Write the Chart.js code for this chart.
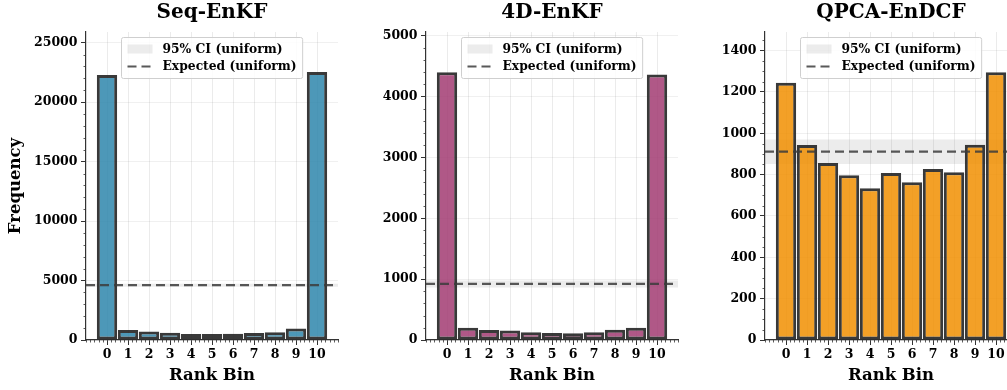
<!DOCTYPE html>
<html>
<head>
<meta charset="utf-8">
<script src="https://cdn.jsdelivr.net/npm/chart.js@4.4.1/dist/chart.umd.min.js"></script>
<style>
  html, body { margin: 0; padding: 0; background: #fff; overflow: hidden; width: 1007px; height: 390px; }
  .panel { position: absolute; top: 0; width: 340px; height: 390px; }
</style>
</head>
<body>
<div class="panel" style="left:0px"><canvas id="seq" width="340" height="390"></canvas></div>
<div class="panel" style="left:340px"><canvas id="fourd" width="340" height="390"></canvas></div>
<div class="panel" style="left:679px"><canvas id="qpca" width="340" height="390"></canvas></div>
<script>
// rank histogram counts
const rankBins = [0, 1, 2, 3, 4, 5, 6, 7, 8, 9, 10];
const seqCounts = [22290, 850, 710, 600, 515, 500, 520, 580, 650, 960, 22540];
const fourDCounts = [4399, 202, 164, 158, 126, 115, 110, 126, 170, 202, 4361];
const qpcaCounts = [1244, 943, 856, 797, 734, 808, 763, 827, 811, 945, 1295];

const panelTitles = ['Seq-EnKF', '4D-EnKF', 'QPCA-EnDCF'];
const expectedCounts = [4610, 921, 911];
const ciLow = [4483, 864, 852];
const ciHigh = [4737, 978, 970];
const yMaxes = [25900, 5060, 1490];
const yMajorSteps = [5000, 1000, 200];
const yMinorSteps = [1000, 200, 50];

const ciLabel = '95% CI (uniform)';
const expLabel = 'Expected (uniform)';

const serif = '"DejaVu Serif", "Liberation Serif", serif';

// small ticks between the major ones, like matplotlib's minor locator
const minorTicks = {
  id: 'minorTicks',
  afterDraw(chart, args, opts) {
    const { ctx, scales: { x, y } } = chart;
    ctx.save();
    ctx.strokeStyle = '#333';
    ctx.lineWidth = 0.8;
    ctx.beginPath();
    const nx = Math.round((x.max - x.min) / 0.2);
    for (let i = 0; i <= nx; i++) {
      const v = x.min + i * 0.2;
      if (Math.abs(v - Math.round(v)) < 1e-6 && v >= 0 && v <= 10) continue;
      const px = Math.round(x.getPixelForValue(v)) + 0.5;
      ctx.moveTo(px, y.bottom);
      ctx.lineTo(px, y.bottom + 2.5);
    }
    const ny = Math.floor(y.max / opts.step);
    for (let i = 1; i <= ny; i++) {
      const v = i * opts.step;
      if (v % opts.major === 0) continue;
      const py = Math.round(y.getPixelForValue(v)) + 0.5;
      ctx.moveTo(x.left, py);
      ctx.lineTo(x.left - 2.5, py);
    }
    ctx.stroke();
    ctx.restore();
  }
};

// framed legend at the upper centre of the plot area
const boxLegend = {
  id: 'boxLegend',
  afterDraw(chart) {
    const { ctx, chartArea: a } = chart;
    const rows = chart.data.datasets.filter(d => d.legendKind)
      .sort((p, q) => p.legendRank - q.legendRank);
    ctx.save();
    ctx.font = 'bold 12.3px ' + serif;
    const textW = Math.max(...rows.map(r => ctx.measureText(r.label).width));
    const w = 6 + 25 + 10 + textW + 6;
    const h = 41;
    const x0 = Math.round((a.left + a.right) / 2 - w / 2) + 0.5;
    const y0 = a.top + 5.5;
    ctx.beginPath();
    ctx.roundRect(x0, y0, w, h, 2);
    ctx.fillStyle = 'rgba(255,255,255,0.85)';
    ctx.fill();
    ctx.strokeStyle = '#cfcfcf';
    ctx.lineWidth = 1;
    ctx.stroke();
    rows.forEach((r, i) => {
      const cy = y0 + 11.5 + i * 17.5;
      const hx = x0 + 6;
      if (r.legendKind === 'patch') {
        ctx.fillStyle = 'rgba(128,128,128,0.15)';
        ctx.fillRect(hx, cy - 4.5, 25, 9);
      } else {
        ctx.strokeStyle = r.borderColor;
        ctx.lineWidth = r.borderWidth;
        ctx.setLineDash(r.borderDash);
        ctx.beginPath();
        ctx.moveTo(hx, cy);
        ctx.lineTo(hx + 25, cy);
        ctx.stroke();
        ctx.setLineDash([]);
      }
      ctx.fillStyle = '#000';
      ctx.textBaseline = 'middle';
      ctx.textAlign = 'left';
      ctx.fillText(r.label, hx + 35, cy + 0.5);
    });
    ctx.restore();
  }
};

function makePanel(canvasId, idx, counts, fill, showYTitle) {
  const tickFont = { family: serif, size: 12.5, weight: 'bold' };
  const major = yMajorSteps[idx];
  return new Chart(document.getElementById(canvasId), {
    type: 'bar',
    data: {
      datasets: [
        {
          type: 'line',
          label: expLabel,
          legendKind: 'line',
          legendRank: 2,
          data: [{ x: -1, y: expectedCounts[idx] }, { x: 11, y: expectedCounts[idx] }],
          borderColor: 'rgba(60,60,60,0.85)',
          borderWidth: 2.2,
          borderDash: [9, 5],
          pointRadius: 0,
          fill: false,
          order: 0
        },
        {
          type: 'bar',
          label: panelTitles[idx],
          data: rankBins.map((b, i) => ({ x: b, y: counts[i] })),
          backgroundColor: fill,
          borderColor: 'rgba(35,35,35,0.9)',
          borderWidth: 3,
          borderSkipped: false,
          barPercentage: 0.97,
          categoryPercentage: 1,
          order: 1
        },
        {
          type: 'line',
          label: ciLabel,
          legendKind: 'patch',
          legendRank: 1,
          data: [{ x: -1, y: ciHigh[idx] }, { x: 11, y: ciHigh[idx] }],
          fill: { value: ciLow[idx] },
          backgroundColor: 'rgba(128,128,128,0.15)',
          borderWidth: 0,
          pointRadius: 0,
          order: 2
        }
      ]
    },
    options: {
      responsive: false,
      animation: false,
      devicePixelRatio: 1,
      layout: { padding: { left: 0, right: 2, top: 0, bottom: 0 } },
      plugins: {
        legend: { display: false },
        tooltip: { enabled: false },
        title: {
          display: true,
          fullSize: false,
          text: panelTitles[idx],
          color: '#000',
          font: { family: serif, size: 20, weight: 'bold' },
          padding: { top: 1, bottom: 7 }
        },
        minorTicks: { step: yMinorSteps[idx], major: major }
      },
      scales: {
        x: {
          type: 'linear',
          min: -1,
          max: 11,
          offset: false,
          afterBuildTicks: s => { s.ticks = rankBins.map(v => ({ value: v })); },
          afterFit: s => { s.height = 50; },
          ticks: { stepSize: 1, color: '#000', font: tickFont, padding: 2, maxRotation: 0, callback: v => String(v) },
          grid: { offset: false, color: 'rgba(0,0,0,0.08)', tickColor: '#333', tickLength: 5, tickWidth: 1 },
          border: { color: '#333', width: 1.2 },
          title: {
            display: true, text: 'Rank Bin', color: '#000',
            font: { family: serif, size: 16.5, weight: 'bold' },
            padding: { top: 0, bottom: 4 }
          }
        },
        y: {
          min: 0,
          max: yMaxes[idx],
          afterBuildTicks: s => {
            const t = [];
            for (let v = 0; v <= s.max; v += major) t.push({ value: v });
            s.ticks = t;
          },
          afterFit: s => { s.width = 86; },
          ticks: { color: '#000', font: tickFont, padding: 3.5, callback: v => String(v) },
          grid: { color: 'rgba(0,0,0,0.06)', tickColor: '#333', tickLength: 5, tickWidth: 1 },
          border: { color: '#333', width: 1.2 },
          title: {
            display: showYTitle, text: 'Frequency', color: '#000',
            font: { family: serif, size: 16.5, weight: 'bold' },
            padding: { top: 6, bottom: 0 }
          }
        }
      }
    },
    plugins: [minorTicks, boxLegend]
  });
}

makePanel('seq', 0, seqCounts, 'rgba(46,134,171,0.85)', true);
makePanel('fourd', 1, fourDCounts, 'rgba(162,59,114,0.85)', false);
makePanel('qpca', 2, qpcaCounts, 'rgba(241,143,1,0.85)', false);
</script>
</body>
</html>
